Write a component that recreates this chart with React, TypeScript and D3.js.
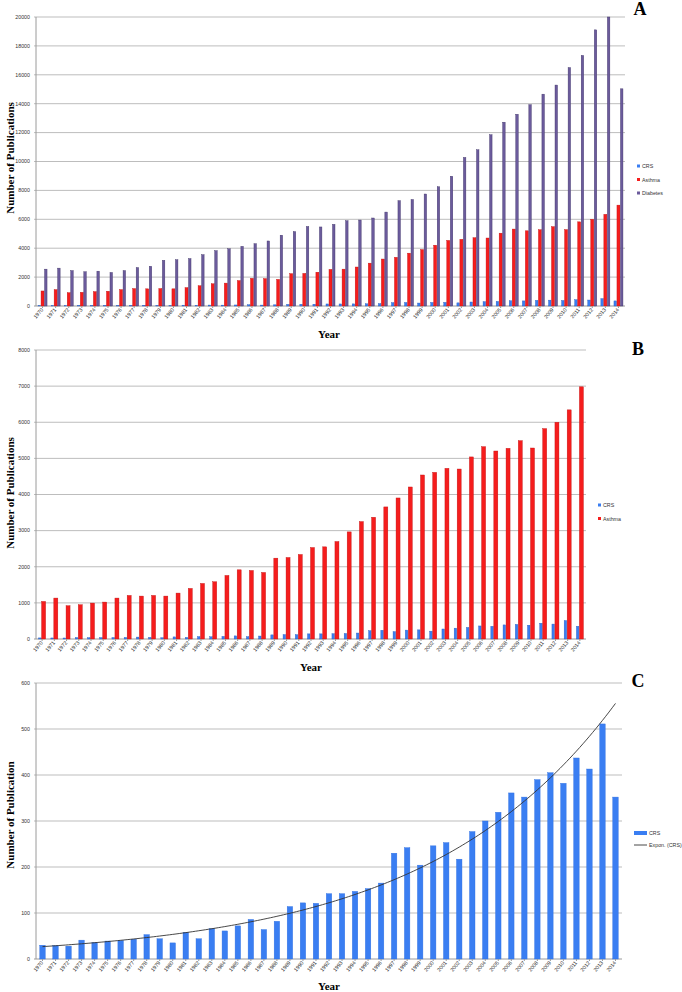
import React from "react";
import * as d3 from "d3";

const years = d3.range(1970, 2015).map(String);

const crs = [30, 29, 28, 41, 36, 39, 40, 43, 53, 44, 35, 58, 44, 66, 61, 72, 86, 64, 82, 114,
  122, 121, 142, 142, 147, 153, 165, 230, 242, 204, 246, 253, 217, 277, 300, 319, 361, 352, 390, 405,
  382, 437, 413, 511, 352];

const asthma = [1040, 1133, 921, 948, 994, 1022, 1133, 1206, 1188, 1206, 1188, 1271, 1400, 1538, 1584,
  1759, 1915, 1897, 1842, 2238, 2256, 2339, 2532, 2551, 2698, 2965, 3250, 3370, 3656, 3904, 4208, 4540,
  4613, 4724, 4705, 5040, 5324, 5204, 5278, 5490, 5287, 5824, 6000, 6343, 6981];

const diabetes = [2550, 2620, 2450, 2370, 2410, 2320, 2450, 2660, 2750, 3160, 3200, 3280, 3550, 3830,
  3960, 4130, 4310, 4500, 4900, 5150, 5500, 5470, 5650, 5900, 5950, 6090, 6500, 7290, 7370, 7750, 8250,
  8980, 10280, 10810, 11850, 12720, 13270, 13930, 14660, 15290, 16500, 17340, 19110, 20000, 15030];

const ticksA = [0, 2000, 4000, 6000, 8000, 10000, 12000, 14000, 16000, 18000, 20000];
const ticksB = [0, 1000, 2000, 3000, 4000, 5000, 6000, 7000, 8000];
const ticksC = [0, 100, 200, 300, 400, 500, 600];

const BLUE = "#3a7ef2";
const RED = "#f51d1d";
const PURPLE = "#6b5b9c";

const serif = "'Liberation Serif', 'DejaVu Serif', serif";
const sans = "'Liberation Sans', Arial, sans-serif";

type Series = { name: string; values: number[]; color: string; stroke: string; w: number };

const Panel = ({ top, bottom, left, right, max, ticks, series, letter, letterX, letterY,
  ylabel, ylabelY, yearX, yearY, legendX, legendY, trend }: any) => {
  const x = d3.scaleBand().domain(years).range([left, right]);
  const y = d3.scaleLinear().domain([0, max]).range([bottom, top]);
  const bw = x.bandwidth();
  const gap = 0.5;
  const groupW = (series as Series[]).reduce((s, d) => s + d.w, 0) + (series.length - 1) * gap;

  let trendPath = null;
  if (trend) {
    // exponential trendline, least squares on ln(y)
    const xs = crs.map((_, i) => i + 1);
    const ls = crs.map((v) => Math.log(v));
    const mx = d3.mean(xs)!;
    const my = d3.mean(ls)!;
    const b = d3.sum(xs, (v, i) => (v - mx) * (ls[i] - my)) / d3.sum(xs, (v) => (v - mx) ** 2);
    const a = my - b * mx;
    const pts = d3.range(1, 45.01, 0.25).map((i) => [
      x(years[0])! + bw / 2 + (i - 1) * bw,
      y(Math.exp(a + b * i)),
    ]);
    trendPath = d3.line()(pts as [number, number][]);
  }

  return (
    <g>
      {ticks.map((t: number) => (
        <g key={t}>
          <line x1={left - 2} x2={right} y1={y(t)} y2={y(t)} stroke={t === 0 ? "#9a9a9a" : "#bdbdbd"} strokeWidth={1} />
          <text x={left - 6} y={y(t) + 1.8} textAnchor="end" fontSize={5.3} fontFamily={sans} fill="#333">{t}</text>
        </g>
      ))}
      <line x1={left} x2={left} y1={top} y2={bottom} stroke="#9a9a9a" />
      {years.map((yr, i) => {
        let off = x(yr)! + (bw - groupW) / 2;
        return (
          <g key={yr}>
            {(series as Series[]).map((s) => {
              const v = s.values[i];
              const bx = off;
              off += s.w + gap;
              return (
                <rect key={s.name} x={bx} y={y(v)} width={s.w} height={bottom - y(v)}
                  fill={s.color} stroke={s.stroke} strokeWidth={0.4} />
              );
            })}
            <line x1={x(yr)! + bw / 2} x2={x(yr)! + bw / 2} y1={bottom} y2={bottom + 2} stroke="#9a9a9a" />
            <text transform={`translate(${x(yr)! + bw / 2 + 1},${bottom + 4}) rotate(-50)`} textAnchor="end"
              fontSize={5.3} fontFamily={sans} fill="#333">{yr}</text>
          </g>
        );
      })}
      {trendPath && <path d={trendPath} fill="none" stroke="#333" strokeWidth={0.9} />}
      <text x={letterX} y={letterY} textAnchor="middle" fontSize={18} fontWeight="bold" fontFamily={serif}>{letter}</text>
      <text transform={`translate(14,${ylabelY}) rotate(-90)`} textAnchor="middle" fontSize={11}
        fontWeight="bold" fontFamily={serif}>{ylabel}</text>
      <text x={yearX} y={yearY} textAnchor="middle" fontSize={11} fontWeight="bold" fontFamily={serif}>Year</text>
      {trend ? (
        <g>
          <rect x={legendX} y={legendY - 2} width={13} height={4} fill={BLUE} />
          <text x={legendX + 15} y={legendY + 2} fontSize={5.3} fontFamily={sans} fill="#333">CRS</text>
          <line x1={legendX} x2={legendX + 13} y1={legendY + 12} y2={legendY + 12} stroke="#333" strokeWidth={0.9} />
          <text x={legendX + 15} y={legendY + 14} fontSize={5.3} fontFamily={sans} fill="#333">Expon. (CRS)</text>
        </g>
      ) : (
        (series as Series[]).map((s, i) => (
          <g key={s.name}>
            <rect x={legendX} y={legendY + i * 13.5 - 1.5} width={3} height={3} fill={s.color} />
            <text x={legendX + 5} y={legendY + i * 13.5 + 2} fontSize={5.3} fontFamily={sans} fill="#333">{s.name}</text>
          </g>
        ))
      )}
    </g>
  );
};

export default function App() {
  return (
    <svg width={682} height={992} style={{ display: "block", position: "absolute", left: 0, top: 0 }}>
      <rect width={682} height={992} fill="#fff" />
      <Panel top={17} bottom={306} left={36} right={625} max={20000} ticks={ticksA}
        series={[
          { name: "CRS", values: crs, color: BLUE, stroke: "#2a5fbf", w: 2.5 },
          { name: "Asthma", values: asthma, color: RED, stroke: "#c01010", w: 3 },
          { name: "Diabetes", values: diabetes, color: PURPLE, stroke: "#3e3266", w: 2.5 },
        ]}
        letter="A" letterX={640} letterY={15} ylabel="Number of Publications" ylabelY={158}
        yearX={329} yearY={338} legendX={637} legendY={166} />
      <Panel top={350} bottom={639} left={36} right={586} max={8000} ticks={ticksB}
        series={[
          { name: "CRS", values: crs, color: BLUE, stroke: "#2a5fbf", w: 2.5 },
          { name: "Asthma", values: asthma, color: RED, stroke: "#c01010", w: 4 },
        ]}
        letter="B" letterX={638} letterY={355} ylabel="Number of Publications" ylabelY={493}
        yearX={311} yearY={671} legendX={598} legendY={505} />
      <Panel top={683} bottom={959} left={36} right={622} max={600} ticks={ticksC}
        series={[{ name: "CRS", values: crs, color: BLUE, stroke: "#3070e0", w: 5.5 }]}
        letter="C" letterX={638} letterY={687} ylabel="Number of Publication" ylabelY={815}
        yearX={329} yearY={990} legendX={634} legendY={833} trend />
    </svg>
  );
}
